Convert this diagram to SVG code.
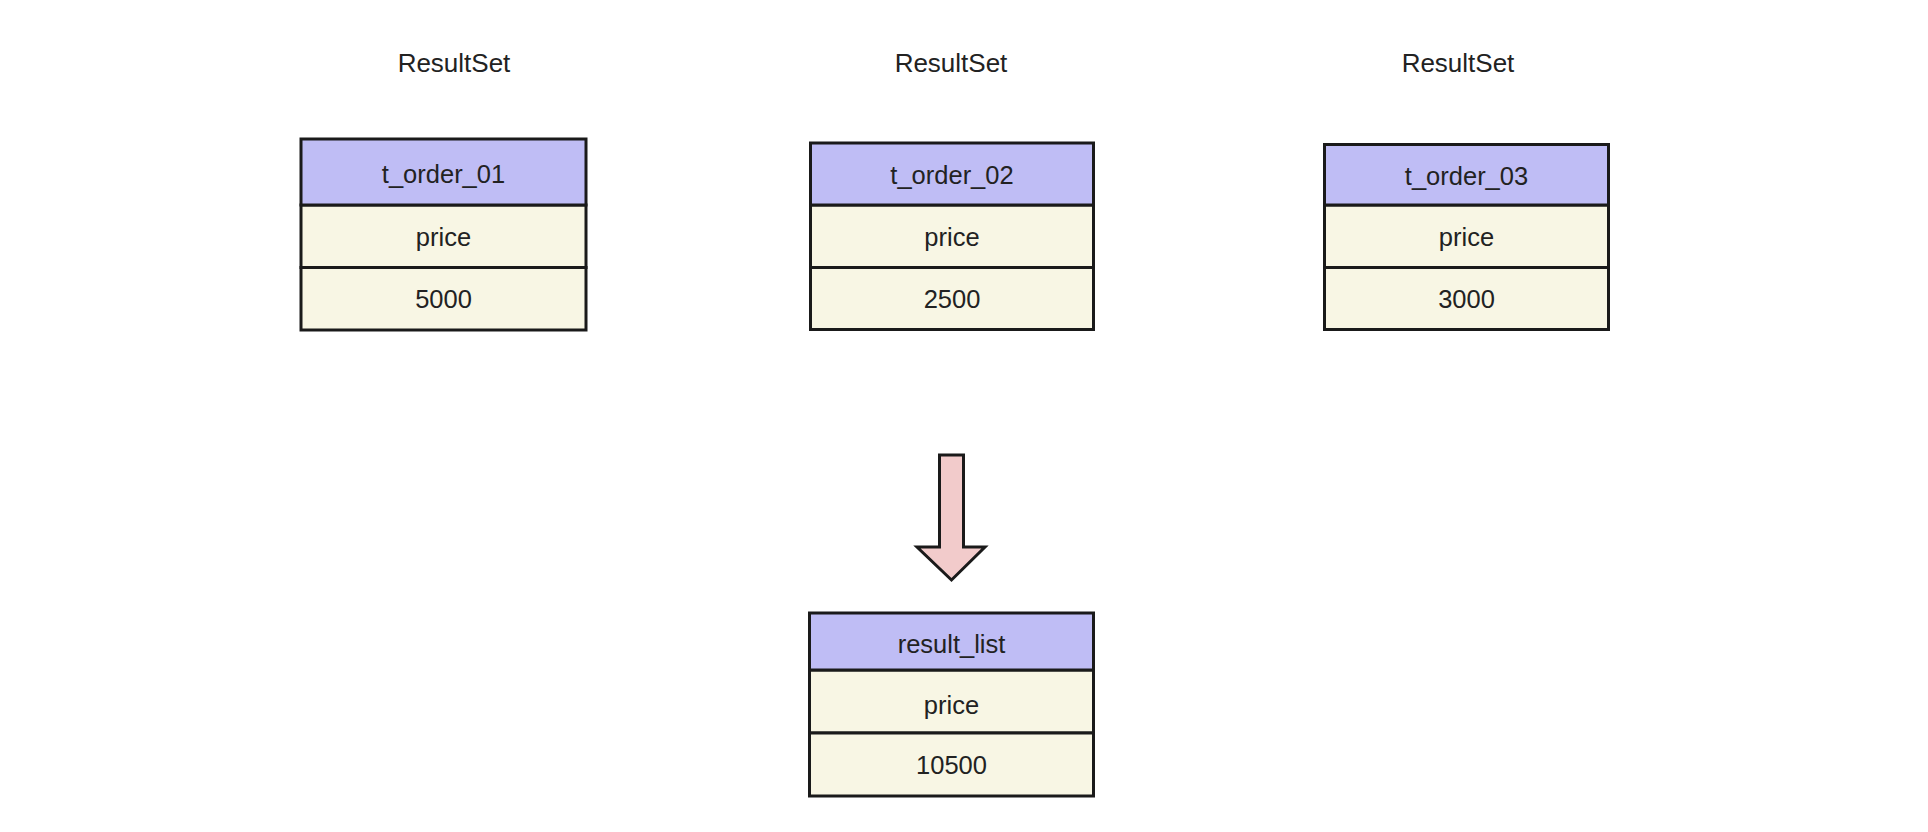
<svg xmlns="http://www.w3.org/2000/svg" width="1928" height="832" viewBox="0 0 1928 832">
<style>
text{font-family:"Liberation Sans",Arial,sans-serif;font-size:25.5px;fill:#222;text-anchor:middle}
.title{font-size:26px}
.hd{fill:#bfbdf5;stroke:#1a1a1a;stroke-width:3}
.rw{fill:#f8f6e4;stroke:#1a1a1a;stroke-width:3}
.arrow{fill:#f2cbcb;stroke:#1a1a1a;stroke-width:3;stroke-linejoin:miter}
</style>
<rect width="1928" height="832" fill="#ffffff"/>
<g id="label1"><text class="title" x="454" y="72">ResultSet</text></g>
<g id="label2"><text class="title" x="951" y="72">ResultSet</text></g>
<g id="label3"><text class="title" x="1458" y="72">ResultSet</text></g>
<g id="t_order_01">
<rect class="rw" x="301" y="205" width="285" height="62.5"/>
<rect class="rw" x="301" y="267.5" width="285" height="62.5"/>
<rect class="hd" x="301" y="139" width="285" height="66"/>
<text x="443.5" y="183">t_order_01</text>
<text x="443.5" y="246">price</text>
<text x="443.5" y="308">5000</text>
</g>
<g id="t_order_02">
<rect class="rw" x="810.5" y="205" width="283" height="62.5"/>
<rect class="rw" x="810.5" y="267.5" width="283" height="62"/>
<rect class="hd" x="810.5" y="143" width="283" height="62"/>
<text x="952" y="184">t_order_02</text>
<text x="952" y="246">price</text>
<text x="952" y="308">2500</text>
</g>
<g id="t_order_03">
<rect class="rw" x="1324.5" y="205" width="284" height="62.5"/>
<rect class="rw" x="1324.5" y="267.5" width="284" height="62"/>
<rect class="hd" x="1324.5" y="144.5" width="284" height="60.5"/>
<text x="1466.5" y="185">t_order_03</text>
<text x="1466.5" y="246">price</text>
<text x="1466.5" y="308">3000</text>
</g>
<g id="connectors">
<path class="arrow" d="M939.5,455 L963.5,455 L963.5,547 L985,547 L951.5,580 L917,547 L939.5,547 Z"/>
</g>
<g id="result_list">
<rect class="rw" x="809.5" y="670" width="284" height="63"/>
<rect class="rw" x="809.5" y="733" width="284" height="63"/>
<rect class="hd" x="809.5" y="613" width="284" height="57"/>
<text x="951.5" y="653">result_list</text>
<text x="951.5" y="714">price</text>
<text x="951.5" y="774">10500</text>
</g>
</svg>
